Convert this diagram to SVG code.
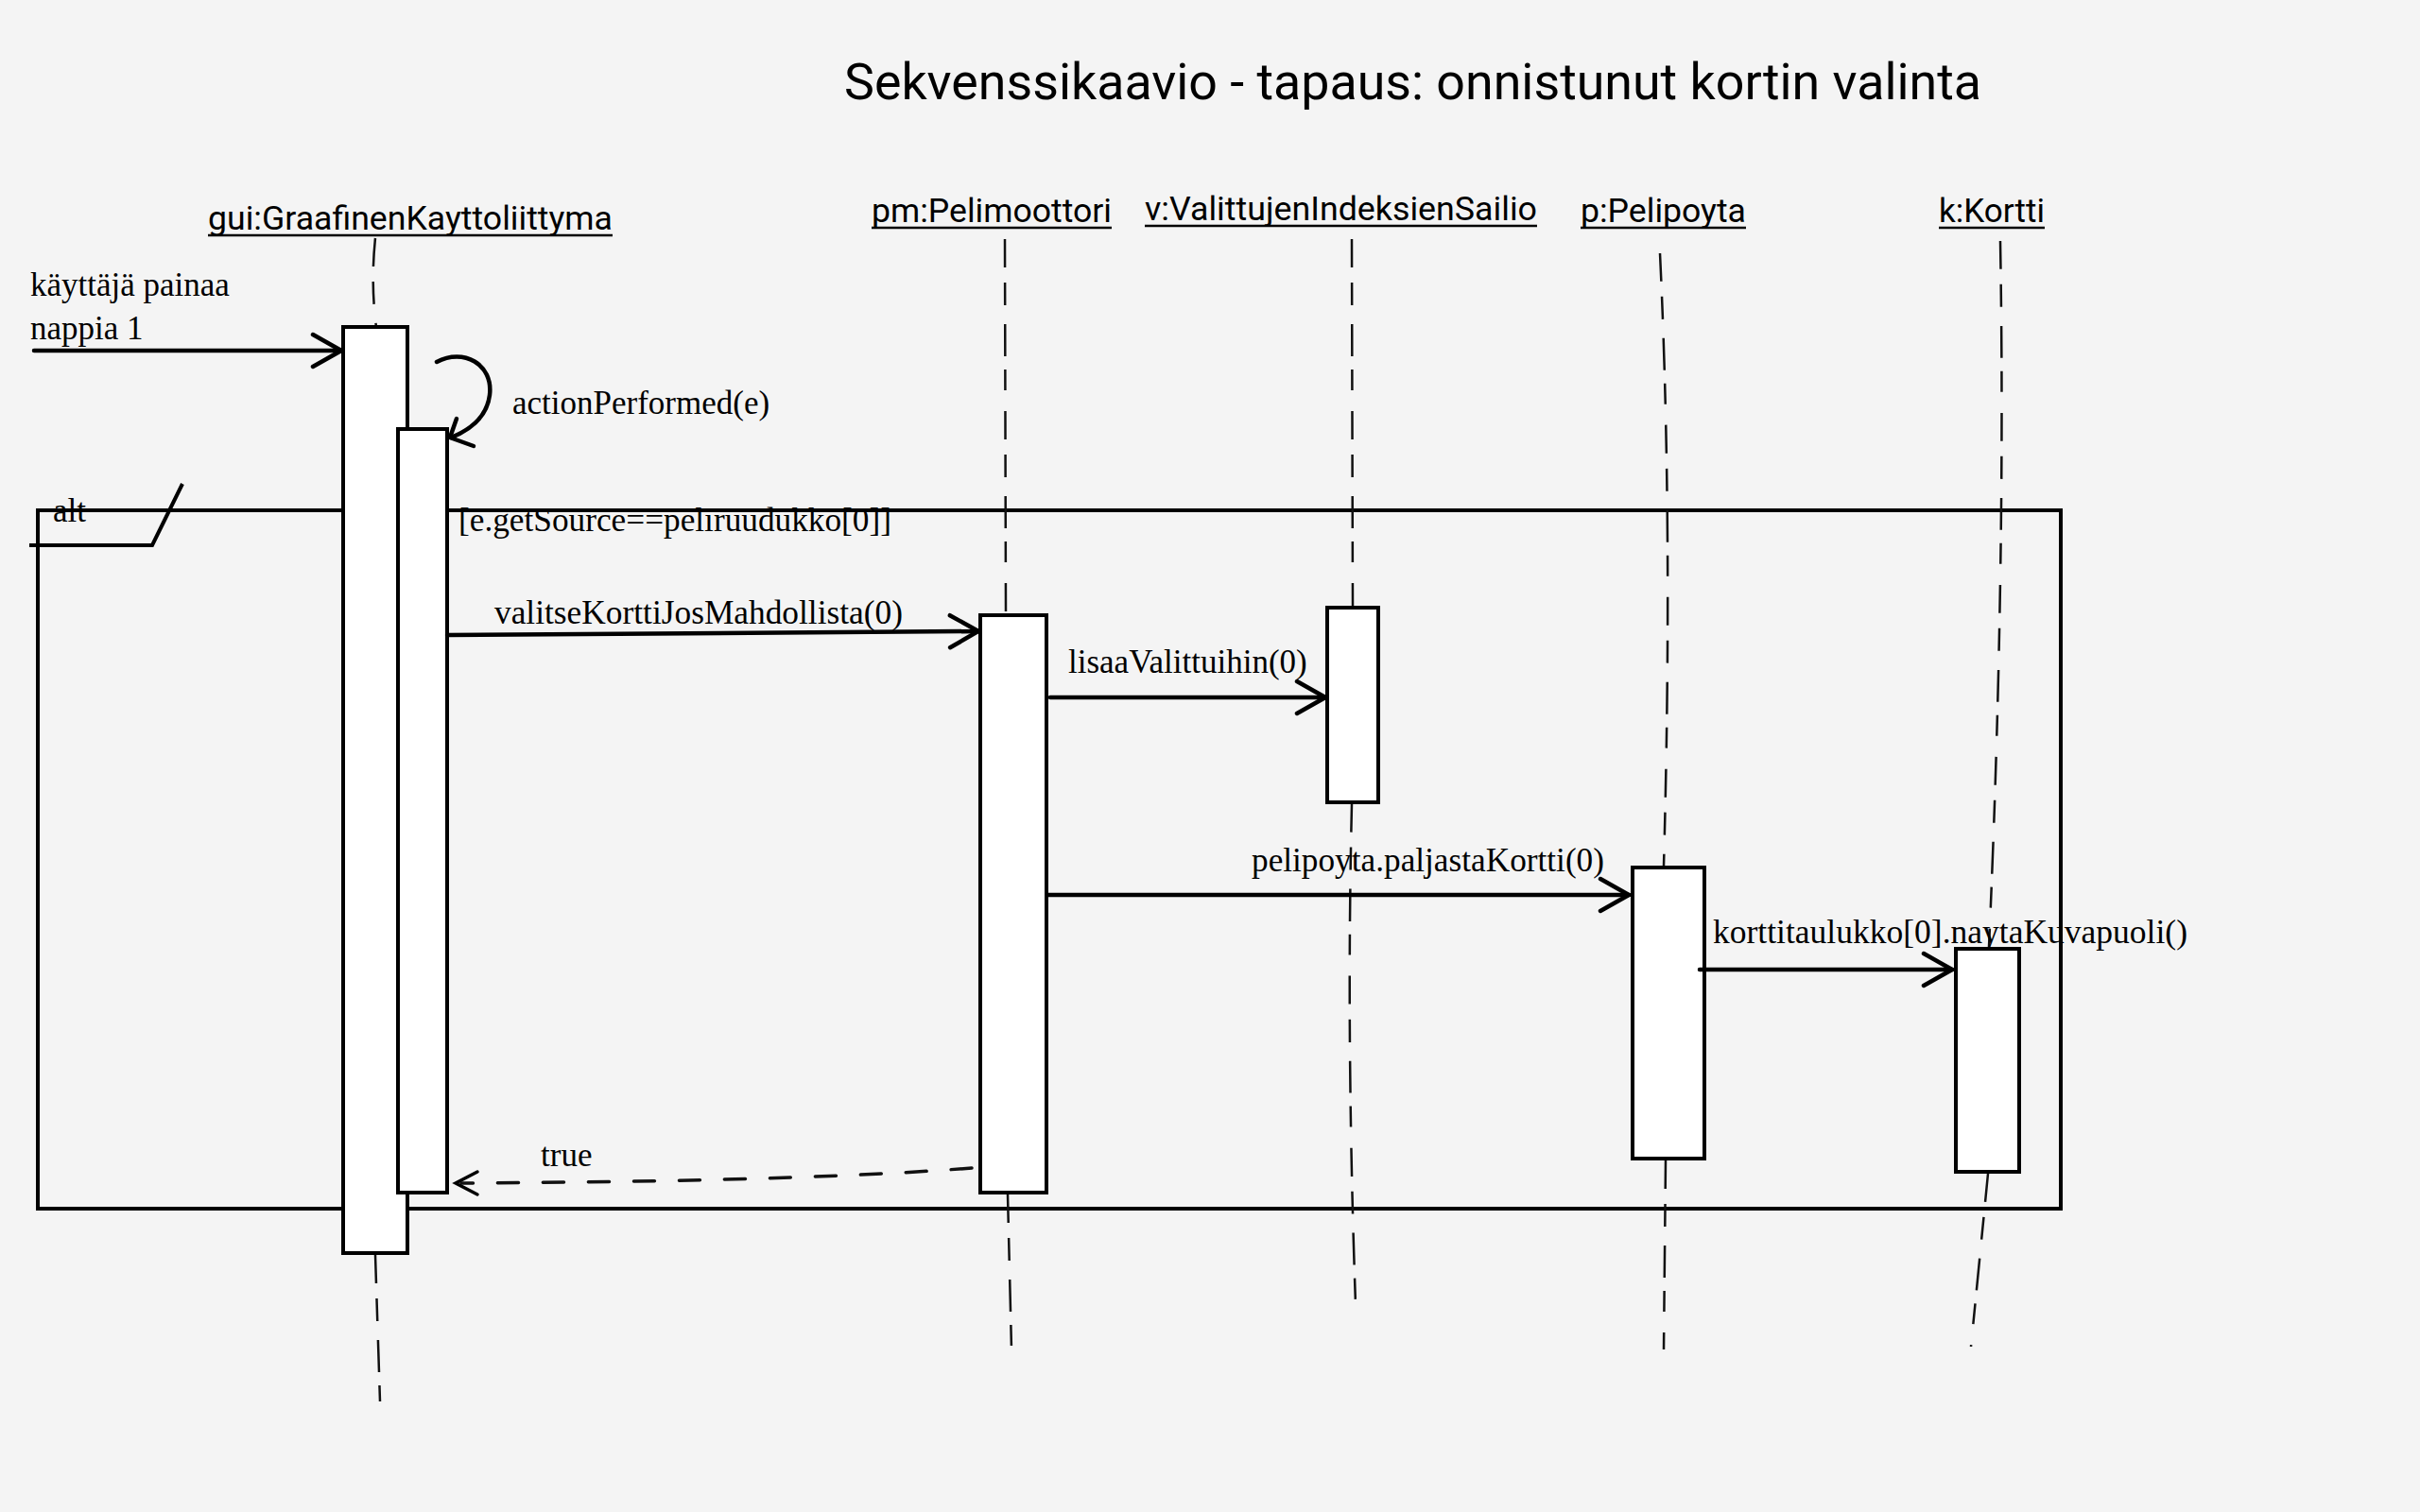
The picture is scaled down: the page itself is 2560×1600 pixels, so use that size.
<svg xmlns="http://www.w3.org/2000/svg" width="2560" height="1600" viewBox="0 0 2560 1600">
<defs>
<style>
.bg{fill:#f4f4f4}
.title{font-family:Roboto,"Liberation Sans",Arial,sans-serif;font-size:54px;fill:#000}
.head{font-family:Roboto,"Liberation Sans",Arial,sans-serif;font-size:35.5px;fill:#000}
.ul{stroke:#000;stroke-width:2.5;fill:none}
.lbl{font-family:"Liberation Serif","Times New Roman",serif;font-size:35px;fill:#000}
.life{stroke:#111;stroke-width:2.5;fill:none;stroke-dasharray:30 16 24 20 34 14 22 22}
.act{fill:#fff;stroke:#000;stroke-width:4}
.frame{fill:none;stroke:#000;stroke-width:4}
.msg{stroke:#000;stroke-width:4.5;fill:none;stroke-linecap:round}
.ret{stroke:#111;stroke-width:3.5;fill:none;stroke-dasharray:22 26;stroke-linecap:round}
.head-arrow{stroke:#000;stroke-width:4.5;fill:none;stroke-linecap:round;stroke-linejoin:miter}
</style>
<marker id="open" viewBox="0 0 36 40" refX="33" refY="20" markerWidth="36" markerHeight="40" markerUnits="userSpaceOnUse" orient="auto">
<path d="M3,3 L33,20 L3,37" fill="none" stroke="#000" stroke-width="4.5" stroke-linecap="round"/>
</marker>
</defs>
<rect class="bg" x="0" y="0" width="2560" height="1600"/>

<text class="title" x="893" y="105" textLength="1203" lengthAdjust="spacingAndGlyphs">Sekvenssikaavio - tapaus: onnistunut kortin valinta</text>

<g id="alt-frame">
<rect class="frame" x="40" y="540" width="2140" height="739"/>
<path class="frame" d="M31,577 L161,577 L193,512"/>
<text class="lbl" x="56" y="552">alt</text>
<text class="lbl" x="485" y="562" textLength="458" lengthAdjust="spacingAndGlyphs">[e.getSource==peliruudukko[0]]</text>
</g>

<g id="gui">
<text class="head" x="220" y="243" textLength="428" lengthAdjust="spacingAndGlyphs">gui:GraafinenKayttoliittyma</text>
<line class="ul" x1="220" y1="249" x2="648" y2="249"/>
<path class="life" d="M397,252 Q392,300 398,346"/>
<path class="life" d="M397,1328 L402,1483"/>
<rect class="act" x="363" y="346" width="68" height="980"/>
<rect class="act" x="421" y="454" width="52" height="808"/>
</g>

<g id="pm">
<text class="head" x="922" y="235" textLength="254" lengthAdjust="spacingAndGlyphs">pm:Pelimoottori</text>
<line class="ul" x1="922" y1="241" x2="1176" y2="241"/>
<path class="life" d="M1063,253 L1064,650"/>
<path class="life" d="M1066,1264 L1070,1428"/>
<rect class="act" x="1037" y="651" width="70" height="611"/>
</g>

<g id="v">
<text class="head" x="1211" y="233" textLength="415" lengthAdjust="spacingAndGlyphs">v:ValittujenIndeksienSailio</text>
<line class="ul" x1="1211" y1="239" x2="1626" y2="239"/>
<path class="life" d="M1430,253 L1431,642"/>
<path class="life" d="M1430,851 Q1424,1100 1434,1380"/>
<rect class="act" x="1404" y="643" width="54" height="206"/>
</g>

<g id="p">
<text class="head" x="1672" y="235" textLength="175" lengthAdjust="spacingAndGlyphs">p:Pelipoyta</text>
<line class="ul" x1="1672" y1="241" x2="1847" y2="241"/>
<path class="life" d="M1756,268 Q1770,560 1760,916"/>
<path class="life" d="M1762,1228 L1760,1428"/>
<rect class="act" x="1727" y="918" width="76" height="308"/>
</g>

<g id="k">
<text class="head" x="2051" y="235" textLength="112" lengthAdjust="spacingAndGlyphs">k:Kortti</text>
<line class="ul" x1="2051" y1="241" x2="2163" y2="241"/>
<path class="life" d="M2116,255 Q2122,600 2104,1002"/>
<path class="life" d="M2103,1242 L2085,1425"/>
<rect class="act" x="2069" y="1004" width="67" height="236"/>
</g>

<g id="connectors">
<line class="msg" x1="36" y1="371" x2="361" y2="371" marker-end="url(#open)"/>
<path class="msg" d="M462,383 C490,368 522,385 518,418 C515,442 497,455 477,463"/>
<path class="head-arrow" d="M483,443 L476,463 L501,472"/>
<line class="msg" x1="473" y1="672" x2="1035" y2="668" marker-end="url(#open)"/>
<line class="msg" x1="1111" y1="738" x2="1402" y2="738" marker-end="url(#open)"/>
<line class="msg" x1="1108" y1="947" x2="1723" y2="947" marker-end="url(#open)"/>
<line class="msg" x1="1798" y1="1026" x2="2065" y2="1026" marker-end="url(#open)"/>
<path class="ret" d="M1028,1236 Q850,1250 488,1252"/>
<path class="head-arrow" style="stroke-width:3.5" d="M505,1240 L482,1252 L505,1264"/>
</g>

<g id="labels">
<text class="lbl" x="32" y="313">käyttäjä painaa</text>
<text class="lbl" x="32" y="359">nappia 1</text>
<text class="lbl" x="542" y="438">actionPerformed(e)</text>
<text class="lbl" x="523" y="660" textLength="432" lengthAdjust="spacingAndGlyphs">valitseKorttiJosMahdollista(0)</text>
<text class="lbl" x="1130" y="712">lisaaValittuihin(0)</text>
<text class="lbl" x="1324" y="922" textLength="373" lengthAdjust="spacingAndGlyphs">pelipoyta.paljastaKortti(0)</text>
<text class="lbl" x="1812" y="998" textLength="502" lengthAdjust="spacingAndGlyphs">korttitaulukko[0].naytaKuvapuoli()</text>
<text class="lbl" x="572" y="1234">true</text>
</g>
</svg>
